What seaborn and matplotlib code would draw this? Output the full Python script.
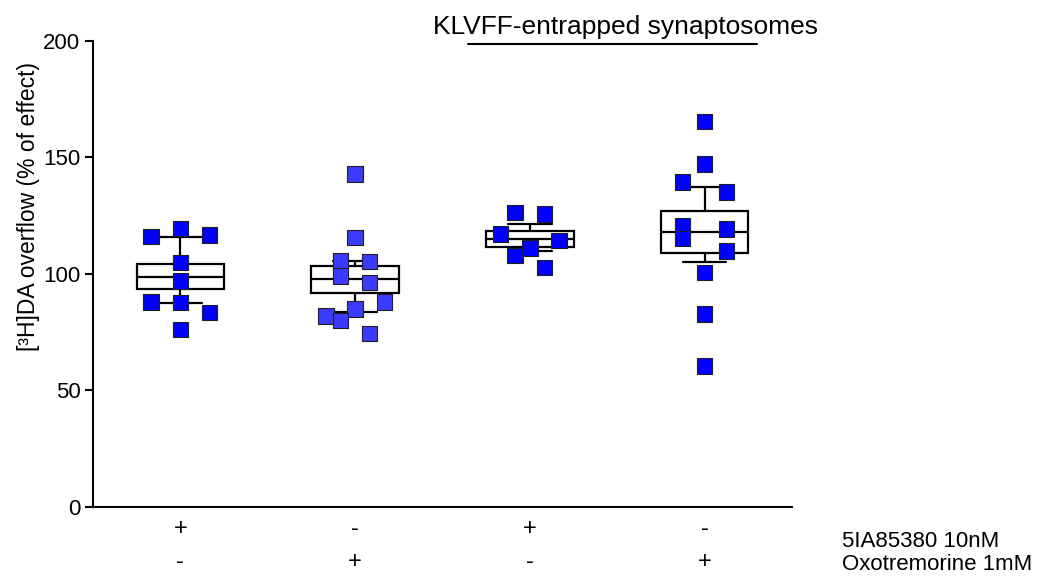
import numpy as np
import pandas as pd
import matplotlib
matplotlib.use("Agg")
import matplotlib.pyplot as plt
import seaborn as sns

# ---------------- data ----------------
groups = ["G1", "G2", "G3", "G4"]
g1_vals = [116.0, 119.6, 116.7, 105.0, 97.1, 87.9, 87.7, 83.4, 76.1]
g1_slot = [-2, 0, 2, 0, 0, -2, 0, 2, 0]
g2_vals = [142.8, 115.6, 105.7, 105.3, 99.1, 96.4, 87.9, 85.0, 82.0, 80.0, 74.5]
g2_slot = [0, 0, -1, 1, -1, 1, 2, 0, -2, -1, 1]
g3_vals = [126.3, 125.8, 117.2, 114.3, 111.2, 107.9, 102.7]
g3_slot = [-1, 1, -2, 2, 0, -1, 1]
g4_vals = [165.4, 147.1, 139.5, 135.1, 120.7, 115.2, 119.2, 109.9, 100.7, 82.8, 60.5]
g4_slot = [0, 0, -1.5, 1.5, -1.5, -1.5, 1.5, 1.5, 0, 0, 0]

box_q1 = [93.6, 91.7, 111.7, 108.9]
box_med = [98.8, 97.7, 114.9, 117.9]
box_q3 = [104.2, 103.6, 118.5, 127.0]
whisk_lo = [87.7, 83.6, 109.9, 105.3]
whisk_hi = [116.0, 105.7, 121.6, 137.3]

row1_labels = ["+", "-", "+", "-"]
row2_labels = ["-", "+", "-", "+"]
row_names = ["5IA85380 10nM", "Oxotremorine 1mM"]
title_text = "KLVFF-entrapped synaptosomes"
ylabel_text = "[³H]DA overflow (% of effect)"
yticks = [0, 50, 100, 150, 200]

# ---------------- style ----------------
sns.set_style("white")
plt.rcParams["font.family"] = ["Liberation Sans", "DejaVu Sans"]
plt.rcParams["font.size"] = 16
plt.rcParams["text.color"] = "black"
plt.rcParams["axes.labelcolor"] = "black"
plt.rcParams["ytick.color"] = "black"
plt.rcParams["xtick.color"] = "black"

fig = plt.figure(figsize=(10.48, 5.79), dpi=100)
ax = fig.add_axes([0.0887, 0.1244, 0.667, 0.8048])

STEP = 0.0835
all_vals = [g1_vals, g2_vals, g3_vals, g4_vals]
all_slots = [g1_slot, g2_slot, g3_slot, g4_slot]
rows = []
for gi, (vals, slots) in enumerate(zip(all_vals, all_slots)):
    for v, s in zip(vals, slots):
        rows.append({"group": groups[gi], "x": gi + s * STEP, "y": v})
df = pd.DataFrame(rows)

# boxes
stats = []
for i in range(4):
    stats.append({"med": box_med[i], "q1": box_q1[i], "q3": box_q3[i],
                  "whislo": whisk_lo[i], "whishi": whisk_hi[i], "fliers": []})
ax.bxp(stats, positions=range(4), widths=0.5, capwidths=0.25, showfliers=False,
       patch_artist=True,
       boxprops=dict(facecolor="white", edgecolor="black", linewidth=1.6),
       medianprops=dict(color="black", linewidth=1.6),
       whiskerprops=dict(color="black", linewidth=1.6),
       capprops=dict(color="black", linewidth=1.6),
       zorder=2)

palette = {"G1": "#0000ff", "G2": "#3b3bff", "G3": "#0000ff", "G4": "#0000ff"}
sns.scatterplot(data=df, x="x", y="y", hue="group", palette=palette, marker="s",
                s=125, edgecolor="#202020", linewidth=0.8, legend=False, ax=ax, zorder=3)

ax.set_xlim(-0.5, 3.5)
ax.set_ylim(0, 200)
ax.set_yticks(yticks)
ax.set_xticks([])
ax.set_xlabel("")
ax.set_ylabel(ylabel_text, fontsize=16.5, color="black")
ax.yaxis.set_label_coords(-0.076, 0.644)
for side in ["top", "right"]:
    ax.spines[side].set_visible(False)
for side in ["left", "bottom"]:
    ax.spines[side].set_linewidth(1.5)
    ax.spines[side].set_color("black")
ax.tick_params(axis="y", direction="out", length=6, width=1.5, labelsize=16, pad=3,
               left=True, colors="black")

# bottom +/- rows
for i in range(4):
    ax.annotate(row1_labels[i], xy=(i, 0), xycoords=("data", "axes fraction"),
                xytext=(0, -16), textcoords="offset points", ha="center", va="center",
                fontsize=17, color="black")
    ax.annotate(row2_labels[i], xy=(i, 0), xycoords=("data", "axes fraction"),
                xytext=(0, -39.5), textcoords="offset points", ha="center", va="center",
                fontsize=17, color="black")
fig.text(0.8034, 0.0656, row_names[0], ha="left", va="center", fontsize=16, color="black")
fig.text(0.8034, 0.0259, row_names[1], ha="left", va="center", fontsize=16, color="black")

# top annotation
ax.plot([1.645, 3.30], [198.7, 198.7], color="black", linewidth=1.5, clip_on=False)
ax.text(2.548, 206, title_text, ha="center", va="center", fontsize=19, color="black",
        clip_on=False)

fig.savefig("out.png", dpi=100)
